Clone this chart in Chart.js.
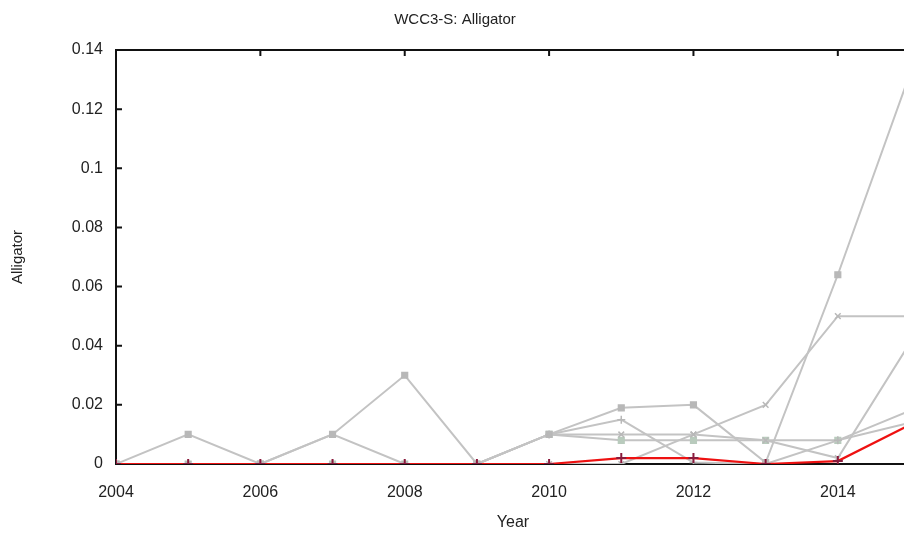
<!DOCTYPE html>
<html>
<head>
<meta charset="utf-8">
<script src="https://cdn.jsdelivr.net/npm/chart.js@4/dist/chart.umd.min.js"></script>
<style>
  html, body { margin: 0; padding: 0; background: #fff; overflow: hidden; }
  #wrap { width: 904px; height: 538px; overflow: hidden; position: relative; }
  #box { width: 1026px; height: 538px; position: absolute; left: 0; top: 0; }
</style>
</head>
<body>
<div id="wrap"><div id="box"><canvas id="c"></canvas></div></div>
<script>
// ---- data ----
const years = [2004, 2005, 2006, 2007, 2008, 2009, 2010, 2011, 2012, 2013, 2014, 2015];
const redSeries = [0, 0, 0, 0, 0, 0, 0, 0.002, 0.002, 0, 0.001, 0.0133];
const gray1 = [0, 0.01, 0, 0.01, 0.03, 0, 0.01, 0.019, 0.02, 0.0005, 0.064, 0.132];
const gray2 = [0, 0, 0, 0.01, 0, 0, 0.01, 0.01, 0.01, 0.008, 0.002, 0.041];
const gray3 = [0, 0, 0, 0, 0, 0, 0.01, 0.015, 0.0005, 0, 0.008, 0.018];
const gray4 = [0, 0, 0, 0, 0, 0, 0.01, 0.008, 0.008, 0.008, 0.008, 0.014];
const gray5 = [0, 0, 0, 0, 0, 0, 0, 0, 0.01, 0.02, 0.05, 0.05];
const xTickYears = [2004, 2006, 2008, 2010, 2012, 2014];
const yTicks = [0, 0.02, 0.04, 0.06, 0.08, 0.1, 0.12, 0.14];
const titleText = 'WCC3-S: Alligator';
const xTitle = 'Year';
const yTitle = 'Alligator';

const pts = arr => arr.map((v, i) => ({ x: years[i], y: v }));
const GRAY = '#c3c3c3';
const FONT = "'Liberation Sans', Arial, sans-serif";

function grayDs(arr, style, pc) {
  return {
    data: pts(arr), borderColor: GRAY, borderWidth: 2,
    pointStyle: style, pointRadius: 4, pointBorderColor: pc || '#b8b8b8',
    pointBackgroundColor: pc || '#b8b8b8', pointBorderWidth: 1.5, tension: 0
  };
}

const frame = {
  id: 'frame',
  beforeDatasetsDraw(chart) {
    const { ctx, chartArea: a, scales } = chart;
    ctx.save();
    ctx.strokeStyle = '#111';
    ctx.lineWidth = 2;
    ctx.beginPath();
    ctx.rect(a.left, a.top, a.right - a.left, a.bottom - a.top);
    ctx.stroke();
    ctx.beginPath();
    yTicks.forEach(v => {
      const y = scales.y.getPixelForValue(v);
      ctx.moveTo(a.left, y); ctx.lineTo(a.left + 6, y);
    });
    xTickYears.forEach(v => {
      const x = scales.x.getPixelForValue(v);
      ctx.moveTo(x, a.top); ctx.lineTo(x, a.top + 6);
    });
    ctx.stroke();
    ctx.restore();
  }
};

new Chart(document.getElementById('c'), {
  type: 'line',
  data: {
    datasets: [
      { data: pts(redSeries), borderColor: '#ee1111', borderWidth: 2.2, pointStyle: 'cross',
        pointRadius: 5, pointBorderColor: '#8a1a3c', pointBorderWidth: 2, tension: 0 },
      grayDs(gray1, 'rect'),
      grayDs(gray2, 'crossRot'),
      grayDs(gray3, 'cross'),
      grayDs(gray4, 'rect', '#b9cbbd'),
      grayDs(gray5, 'crossRot')
    ]
  },
  plugins: [frame],
  options: {
    responsive: true, maintainAspectRatio: false, animation: false,
    layout: { padding: { left: 0, right: 116, top: 0, bottom: 0 } },
    plugins: {
      legend: { display: false }, tooltip: { enabled: false },
      title: { display: true, text: titleText, color: '#222',
        font: { family: FONT, size: 15, weight: 'normal' }, padding: { top: 11, bottom: 21 } }
    },
    scales: {
      x: {
        type: 'linear', min: 2004, max: 2015,
        grid: { display: false, drawTicks: false }, border: { display: false },
        afterBuildTicks: s => { s.ticks = xTickYears.map(v => ({ value: v })); },
        afterFit: s => { s.height = 74; },
        ticks: { color: '#222', padding: 19, font: { family: FONT, size: 16 },
          callback: v => String(v), maxRotation: 0, autoSkip: false },
        title: { display: true, text: xTitle, color: '#222', font: { family: FONT, size: 16 },
          padding: { top: 4, bottom: 6 } }
      },
      y: {
        min: 0, max: 0.14,
        grid: { display: false, drawTicks: false }, border: { display: false },
        afterBuildTicks: s => { s.ticks = yTicks.map(v => ({ value: v })); },
        afterFit: s => { s.width = 116; },
        ticks: { color: '#222', padding: 13, font: { family: FONT, size: 16 },
          callback: v => String(+v.toFixed(2)) },
        title: { display: true, text: yTitle, color: '#222', font: { family: FONT, size: 15 },
          padding: { top: 9, bottom: 0 } }
      }
    }
  }
});
</script>
</body>
</html>
